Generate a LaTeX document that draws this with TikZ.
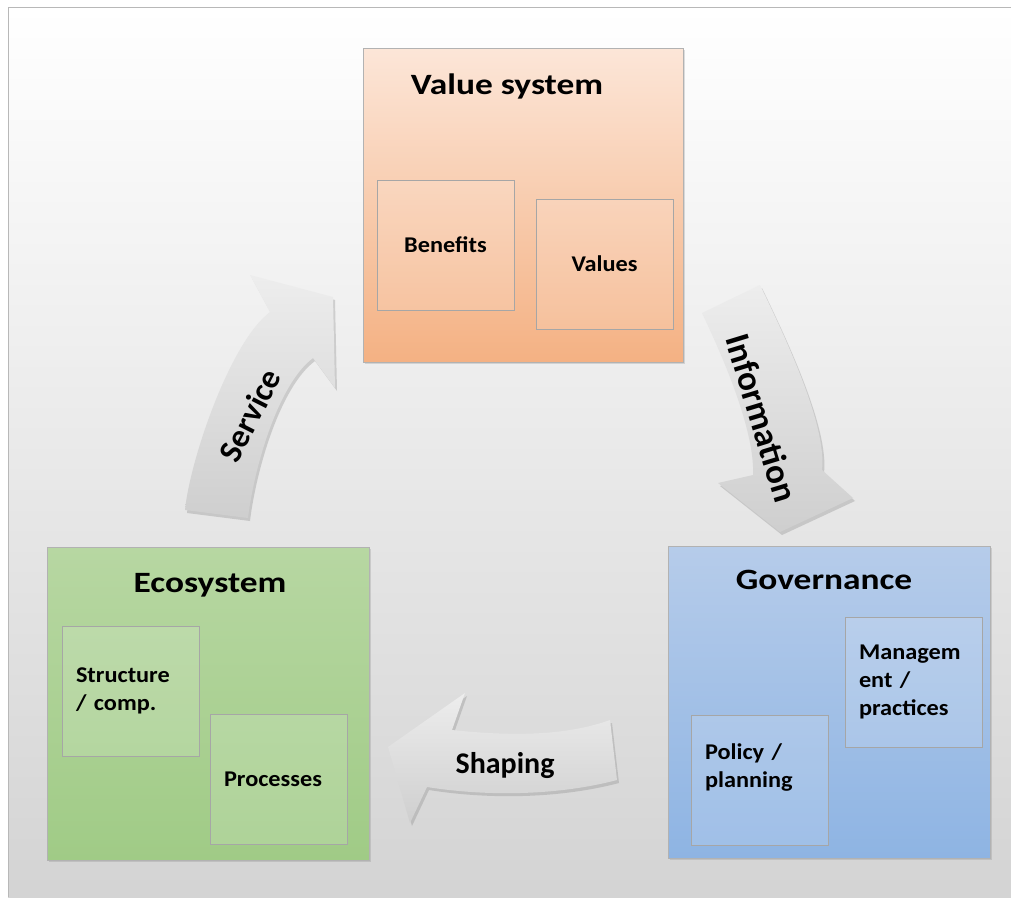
\documentclass[tikz,border=0pt]{standalone}
\usepackage{fontspec}
\usetikzlibrary{positioning,shadows}
\newfontfamily\titlefont{Carlito}[FakeStretch=1.2]
\newfontfamily\boxfont{Carlito}[FakeStretch=1.08]
\newfontfamily\arrowfont{Carlito}
\definecolor{vstop}{RGB}{252,230,216}
\definecolor{vsbot}{RGB}{244,177,131}
\definecolor{ectop}{RGB}{183,215,162}
\definecolor{ecbot}{RGB}{160,203,134}
\definecolor{gvtop}{RGB}{182,204,234}
\definecolor{gvbot}{RGB}{142,180,227}

\tikzset{
  bigbox/.style={draw=black!30, minimum width=322pt, minimum height=313pt, inner sep=0pt,
    drop shadow={opacity=0.25, shadow xshift=2pt, shadow yshift=-2pt}},
  subbox/.style={draw=black!35, fill=white, fill opacity=0.15, text opacity=1,
    minimum height=130pt, text width=109pt, inner xsep=14pt, inner ysep=0pt,
    font=\boxfont\bfseries\fontsize{22.5}{28}\selectfont},
  boxtitle/.style={anchor=base, inner sep=0pt, font=\titlefont\bfseries\fontsize{29.5}{34}\selectfont},
  bigarrow/.style={top color=black!7, bottom color=black!19, draw=none,
    drop shadow={opacity=0.3, shadow xshift=2pt, shadow yshift=-3pt}},
  arrowtext/.style={inner sep=0pt, font=\arrowfont\bfseries}
}

\begin{document}
\begin{tikzpicture}[x=1pt,y=-1pt]
\useasboundingbox (0,0) rectangle (1011,897);
% slide background
\fill[white] (0,0) rectangle (1011,897);
\shade[top color=white, middle color=black!4, bottom color=black!17] (8,7) rectangle (1011,897);
\draw[black!28, line width=1pt] (8,897) -- (8,7) -- (1011,7);

% value system
\node[bigbox, minimum width=320pt, minimum height=314pt, top color=vstop, bottom color=vsbot] (vs) at (523,205) {};
\node[boxtitle] (vs_title) at ([xshift=-16pt,yshift=-47pt]vs.north) {Value system};
\node[subbox, align=center, below right=132pt and 14pt of vs.north west] (benefits) {Benefits};
\node[subbox, align=center, below right=151pt and 173pt of vs.north west] (values) {Values};

% ecosystem
\node[bigbox, top color=ectop, bottom color=ecbot] (eco) at (208,703.5) {};
\node[boxtitle] (eco_title) at ([xshift=2pt,yshift=-46pt]eco.north) {Ecosystem};
\node[subbox, align=left, below right=79pt and 15pt of eco.north west] (structure) {Structure\\/ comp.};
\node[subbox, align=left, below right=167pt and 163pt of eco.north west] (processes) {Processes};

% governance
\node[bigbox, minimum height=312pt, top color=gvtop, bottom color=gvbot] (gov) at (829,702) {};
\node[boxtitle] (gov_title) at ([xshift=-5pt,yshift=-44pt]gov.north) {Governance};
\node[subbox, align=left, below right=71pt and 177pt of gov.north west] (mgmt) {Managem\\ent /\\practices};
\node[subbox, align=left, below right=169pt and 23pt of gov.north west] (policy) {Policy /\\planning\\\mbox{}};

% curved block arrows
\path[bigarrow] (185,510) .. controls (190,460) and (230,342) .. (270,312) -- (250,275) -- (333,297)
  -- (335,388) -- (313,358) .. controls (278,384) and (254,468) .. (248,518) -- cycle;
\path[bigarrow] (702,313) -- (760,285) .. controls (785,337) and (827,425) .. (822,470) -- (853,498)
  -- (780,532) -- (718,483) -- (753,475) .. controls (755,430) and (722,355) .. (702,313) -- cycle;
\path[bigarrow] (617,780) -- (610,720) .. controls (560,738) and (500,735) .. (452,730) -- (465,693)
  -- (388,747) -- (410,823) -- (427,787) .. controls (490,797) and (560,795) .. (617,780) -- cycle;

\node[arrowtext, rotate=63, font=\arrowfont\bfseries\fontsize{33}{36}\selectfont] (service) at (250,415) {Service};
\node[arrowtext, rotate=-73, font=\arrowfont\bfseries\fontsize{35}{38}\selectfont] (information) at (762,418) {Information};
\node[arrowtext, font=\arrowfont\bfseries\fontsize{30}{34}\selectfont] (shaping) at (505,766) {Shaping};

\end{tikzpicture}
\end{document}
